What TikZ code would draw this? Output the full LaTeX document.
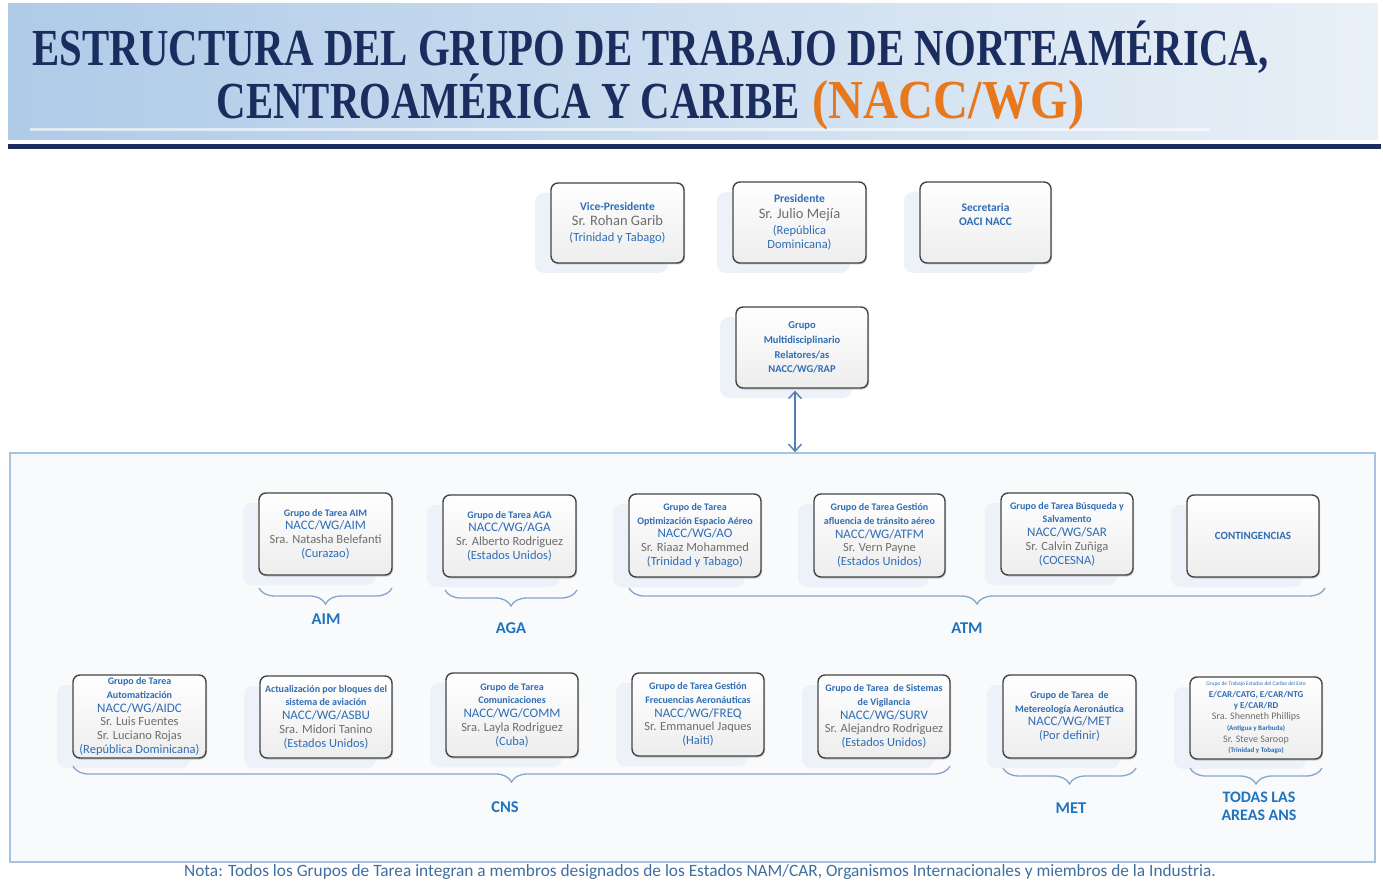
\documentclass[tikz,border=0pt]{standalone}
\usepackage{fontspec}
\setmainfont{Carlito}
\newfontfamily\titlefont{Liberation Serif}
\usetikzlibrary{arrows.meta,decorations.pathreplacing,shadows,calc}
\definecolor{navy}{HTML}{1B2D5F}
\definecolor{orangett}{HTML}{E8781E}
\definecolor{boxline}{HTML}{454545}
\definecolor{tblue}{HTML}{2F6DB5}
\definecolor{lblue}{HTML}{1F74C0}
\definecolor{tgray}{HTML}{6E6E6E}
\definecolor{bracecol}{HTML}{86A5C8}
\definecolor{panelline}{HTML}{A8C3DF}
\definecolor{panelfill}{HTML}{F9FAFB}
\definecolor{glowcol}{HTML}{EDF2F8}
\definecolor{notecol}{HTML}{3F6F9F}
\definecolor{arrowcol}{HTML}{4F7FB0}
\definecolor{bgleft}{HTML}{AFCBE8}
\definecolor{bgright}{HTML}{E9F0F7}
\newcommand\bxttl[1]{{\fontsize{10}{11}\selectfont\bfseries\color{tblue}#1}}
\newcommand\bxcode[1]{{\fontsize{13}{14}\selectfont\color{tblue}#1}}
\newcommand\bxname[1]{{\color{tgray}#1}}
\newcommand\bxctry[1]{{\color{tblue}#1}}
\newcommand\orgbox[6]{%
  \fill[glowcol, rounded corners=9pt] (#2-#4/2-16, #3-#5/2+10) rectangle ++(#4, #5);
  \node[orgnode, minimum width=#4pt, minimum height=#5pt] (#1) at (#2,#3) {#6};
}
\begin{document}
\begin{tikzpicture}[x=1pt,y=-1pt,
  orgnode/.style={draw=boxline, line width=1.4pt, rounded corners=7pt,
    top color=white, bottom color=black!7, align=center, inner sep=1pt,
    font=\fontsize{12.5}{13.7}\selectfont, text=tgray,
    drop shadow={shadow xshift=1pt, shadow yshift=-1.5pt, fill=black!40, opacity=0.5}},
  brc/.style={decorate, decoration={brace, mirror, amplitude=16pt}, draw=bracecol, line width=1.3pt},
  lbl/.style={font=\fontsize{16.5}{18}\selectfont\bfseries, text=lblue, align=center}]
\useasboundingbox (0,0) rectangle (1383,882);
\fill[white] (0,0) rectangle (1383,882);
% title area
\shade[left color=bgleft, right color=bgright] (8,4) rectangle (1378,140);
\fill[white, opacity=0.6] (30,128) rectangle (1210,131);
\fill[navy] (8,144) rectangle (1381,149);
\node[font=\titlefont\bfseries\fontsize{52}{56}\selectfont, text=navy, anchor=base, inner sep=0] (t1) at (650.5,66)
  {\scalebox{0.785}[1]{ESTRUCTURA DEL GRUPO DE TRABAJO DE NORTEAMÉRICA,}};
\node[font=\titlefont\bfseries\fontsize{52}{56}\selectfont, text=navy, anchor=base, inner sep=0] (t2) at (650.5,119)
  {\scalebox{0.785}[1]{CENTROAMÉRICA Y CARIBE} {\color{orangett}\fontsize{55}{58}\selectfont\scalebox{0.88}[1]{(NACC/WG)}}};
% top boxes
\orgbox{vp}{617.5}{223}{133}{80}{\bxttl{\fontsize{11.5}{12}\selectfont Vice-Presidente}\\[2pt]{\fontsize{14.5}{15}\selectfont Sr. Rohan Garib}\\[2pt]\bxctry{\fontsize{12.5}{13}\selectfont (Trinidad y Tabago)}}
\orgbox{pres}{799.5}{222.5}{133}{81}{\bxttl{\fontsize{11.5}{12}\selectfont Presidente}\\[2pt]{\fontsize{14.5}{15}\selectfont Sr. Julio Mejía}\\[2pt]\bxctry{\fontsize{12.5}{13}\selectfont (República}\\[1pt]\bxctry{\fontsize{12.5}{13}\selectfont Dominicana)}}
\orgbox{sec}{985.5}{222.5}{131}{81}{\bxttl{\fontsize{11.5}{12}\selectfont Secretaria}\\\bxttl{\fontsize{11.5}{12}\selectfont OACI NACC}\\[2pt]\mbox{}}
\orgbox{rap}{802}{347.5}{132}{81}{\bxttl{\fontsize{10.5}{12}\selectfont Grupo}\\[1pt]\bxttl{\fontsize{10.5}{12}\selectfont Multidisciplinario}\\[1pt]\bxttl{\fontsize{10.5}{12}\selectfont Relatores/as}\\[1pt]\bxttl{\fontsize{10.5}{12}\selectfont NACC/WG/RAP}}
% panel
\node[draw=panelline, line width=1.6pt, fill=panelfill, minimum width=1365pt, minimum height=409pt, inner sep=0] (panel) at (692.5,657.5) {};
\draw[{Straight Barb[length=7pt,width=13pt]}-{Straight Barb[length=7pt,width=13pt]}, arrowcol, line width=1.4pt]
  ([xshift=-7pt,yshift=-2pt]rap.south) -- ([xshift=-7pt]rap.south |- panel.north);
% row 1
\orgbox{aim}{325.5}{534}{133}{82}{\bxttl{Grupo de Tarea AIM}\\\bxcode{NACC/WG/AIM}\\Sra. Natasha Belefanti\\\bxctry{(Curazao)}}
\orgbox{aga}{509.5}{536}{133}{82}{\bxttl{Grupo de Tarea AGA}\\\bxcode{NACC/WG/AGA}\\Sr. Alberto Rodriguez\\\bxctry{(Estados Unidos)}}
\orgbox{ao}{695}{535.5}{132}{83}{\bxttl{Grupo de Tarea}\\\bxttl{Optimización Espacio Aéreo}\\\bxcode{NACC/WG/AO}\\Sr. Riaaz Mohammed\\\bxctry{(Trinidad y Tabago)}}
\orgbox{atfm}{879.5}{535.5}{131}{83}{\bxttl{Grupo de Tarea Gestión}\\\bxttl{afluencia de tránsito aéreo}\\\bxcode{NACC/WG/ATFM}\\Sr. Vern Payne\\\bxctry{(Estados Unidos)}}
\orgbox{sar}{1067}{534}{132}{82}{\bxttl{Grupo de Tarea Búsqueda y}\\\bxttl{Salvamento}\\\bxcode{NACC/WG/SAR}\\Sr. Calvin Zuñiga\\\bxctry{(COCESNA)}}
\orgbox{cont}{1253}{536}{132}{82}{\bxttl{\fontsize{11}{12}\selectfont CONTINGENCIAS}}
\draw[brc] (259,588) -- (392,588);
\draw[brc] (445,590) -- (577,590);
\draw[brc] (629,588) -- (1325,588);
\node[lbl] (laim) at (326,619) {AIM};
\node[lbl] (laga) at (511,628) {AGA};
\node[lbl] (latm) at (967,628) {ATM};
% row 2
\orgbox{aidc}{139.5}{716.5}{133}{83}{\bxttl{Grupo de Tarea}\\\bxttl{Automatización}\\\bxcode{NACC/WG/AIDC}\\Sr. Luis Fuentes\\Sr. Luciano Rojas\\\bxctry{(República Dominicana)}}
\orgbox{asbu}{326}{717}{132}{82}{\bxttl{Actualización por bloques del}\\\bxttl{sistema de aviación}\\\bxcode{NACC/WG/ASBU}\\Sra. Midori Tanino\\\bxctry{(Estados Unidos)}}
\orgbox{comm}{512}{715}{132}{84}{\bxttl{Grupo de Tarea}\\\bxttl{Comunicaciones}\\\bxcode{NACC/WG/COMM}\\Sra. Layla Rodriguez\\\bxctry{(Cuba)}}
\orgbox{freq}{698}{714.5}{132}{83}{\bxttl{Grupo de Tarea Gestión}\\\bxttl{Frecuencias Aeronáuticas}\\\bxcode{NACC/WG/FREQ}\\Sr. Emmanuel Jaques\\\bxctry{(Haití)}}
\orgbox{surv}{884}{716.5}{132}{83}{\bxttl{Grupo de Tarea\ \ de Sistemas}\\\bxttl{de Vigilancia}\\\bxcode{NACC/WG/SURV}\\Sr. Alejandro Rodriguez\\\bxctry{(Estados Unidos)}}
\orgbox{met}{1069.5}{716.5}{133}{83}{\bxttl{Grupo de Tarea\ \ de}\\\bxttl{Metereología Aeronáutica}\\\bxcode{NACC/WG/MET}\\\bxctry{(Por definir)}}
\orgbox{ecar}{1256}{718}{132}{82}{{\fontsize{5.5}{7}\selectfont\color{tblue}Grupo de Trabajo Estados del Caribe del Este}\\[-2pt]{\fontsize{9}{10}\selectfont\bfseries\color{tblue}E/CAR/CATG, E/CAR/NTG}\\[-3pt]{\fontsize{9}{10}\selectfont\bfseries\color{tblue}y E/CAR/RD}\\[-2pt]{\fontsize{10}{10}\selectfont Sra. Shenneth Phillips}\\[-3pt]{\fontsize{7}{8}\selectfont\bfseries\color{tblue}(Antigua y Barbuda)}\\[-2pt]{\fontsize{10}{10}\selectfont Sr. Steve Saroop}\\[-3pt]{\fontsize{7}{8}\selectfont\bfseries\color{tblue}(Trinidad y Tobago)}}
\draw[brc] (73,766) -- (950,766);
\draw[brc] (1003,768) -- (1136,768);
\draw[brc] (1190,768) -- (1322,768);
\node[lbl] (lcns) at (505,807) {CNS};
\node[lbl] (lmet) at (1071,808) {MET};
\node[lbl, font=\fontsize{16}{18}\selectfont\bfseries] (ltodas) at (1259,806) {TODAS LAS\\AREAS ANS};
% note
\node[font=\fontsize{17.3}{18}\selectfont, text=notecol] (note) at (700,872)
  {Nota: Todos los Grupos de Tarea integran a membros designados de los Estados NAM/CAR, Organismos Internacionales y miembros de la Industria.};
\end{tikzpicture}
\end{document}
